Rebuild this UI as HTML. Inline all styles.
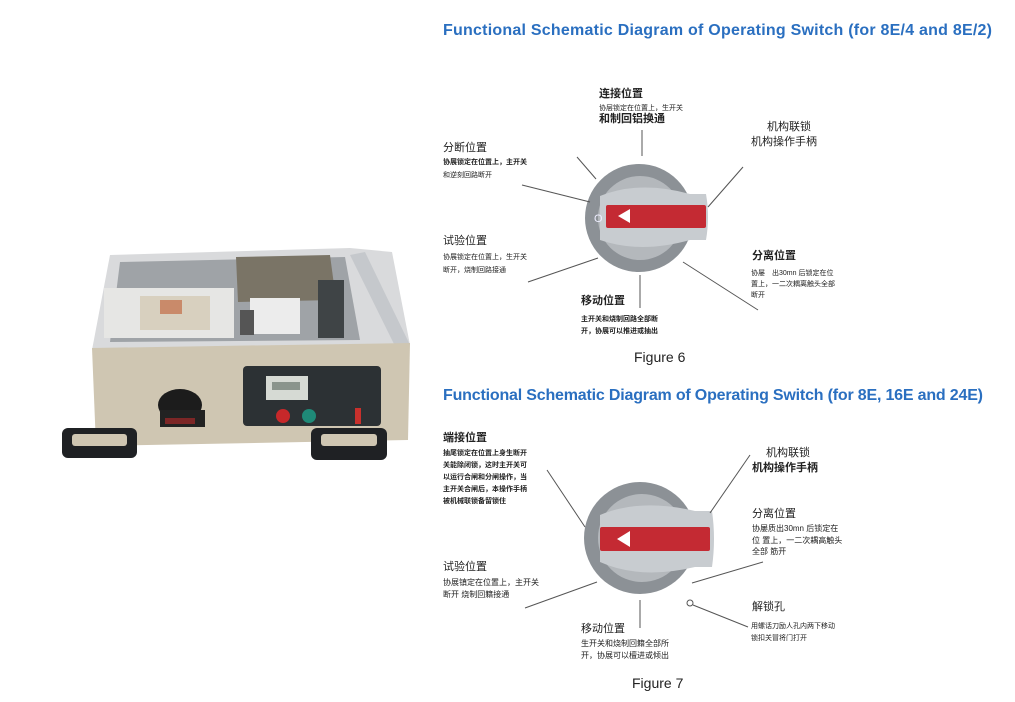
<!DOCTYPE html>
<html><head><meta charset="utf-8"><style>
html,body{margin:0;padding:0;background:#fff;}
svg{display:block}
text{font-family:"Liberation Sans","Noto Sans CJK SC",sans-serif;fill:#222}
.t{fill:#2a6fc0;font-size:16px;font-weight:bold}
.h{font-size:11px;font-weight:bold}
.s{font-size:7px}
.m{font-size:8px}
.ln{stroke:#555;stroke-width:1;fill:none}
</style></head><body>
<svg width="1015" height="702" viewBox="0 0 1015 702" xmlns="http://www.w3.org/2000/svg">
<text class="t" x="443" y="35" textLength="549" lengthAdjust="spacing">Functional Schematic Diagram of Operating Switch (for 8E/4 and 8E/2)</text>
<text class="t" x="443" y="400" textLength="540" lengthAdjust="spacing">Functional Schematic Diagram of Operating Switch (for 8E, 16E and 24E)</text>
<text x="634" y="362" font-size="14">Figure 6</text>
<text x="632" y="688" font-size="14">Figure 7</text>

<g>
<polygon points="110,255 350,248 392,252 410,345 92,350" fill="#d9dadc"/>
<polygon points="120,262 345,257 360,340 110,342" fill="#9fa3a7"/>
<polygon points="236,257 330,255 336,300 238,302" fill="#7a7466"/>
<rect x="104" y="288" width="130" height="50" fill="#e6e6e4"/>
<rect x="140" y="296" width="70" height="34" fill="#d8d0bf"/>
<rect x="160" y="300" width="22" height="14" fill="#c98a6a"/>
<rect x="250" y="298" width="50" height="36" fill="#ececec"/>
<rect x="240" y="310" width="14" height="25" fill="#555"/>
<rect x="318" y="280" width="26" height="58" fill="#3f4446"/>
<polygon points="350,255 365,252 410,345 395,346" fill="#c5c8cc"/>
<polygon points="92,348 410,343 408,440 96,446" fill="#cfc6b2"/>
<rect x="243" y="366" width="138" height="60" rx="4" fill="#2c3134"/>
<rect x="266" y="376" width="42" height="24" fill="#d6dad4"/>
<rect x="272" y="382" width="28" height="8" fill="#8a948c"/>
<circle cx="283" cy="416" r="7" fill="#c7282a"/>
<circle cx="309" cy="416" r="7" fill="#1f8a78"/>
<rect x="355" y="408" width="6" height="16" fill="#c8302c"/>
<ellipse cx="180" cy="405" rx="22" ry="16" fill="#1c1c1c"/>
<rect x="160" y="410" width="45" height="17" fill="#222"/>
<rect x="165" y="418" width="30" height="6" fill="#7c2626"/>
<rect x="62" y="428" width="75" height="30" rx="6" fill="#1f2124"/>
<rect x="72" y="434" width="55" height="12" rx="3" fill="#cfc6b2"/>
<rect x="311" y="428" width="76" height="32" rx="6" fill="#1f2124"/>
<rect x="321" y="434" width="56" height="12" rx="3" fill="#cfc6b2"/>
</g>

<g>
<circle cx="639" cy="218" r="54" fill="#8c9196"/>
<circle cx="640" cy="218" r="42" fill="#b4b8bc"/>
<path d="M600,196 Q640,180 690,194 L706,194 Q710,217 706,240 L690,240 Q640,254 600,240 Z" fill="#c8ccd0"/>
<rect x="606" y="205" width="100" height="23" rx="2" fill="#c42a33"/>
<polygon points="618,216 630,209 630,223" fill="#fff"/>
<text x="594" y="222" font-size="11" style="fill:#eef">O</text>
</g>
<line class="ln" x1="642" y1="130" x2="642" y2="156"/>
<line class="ln" x1="577" y1="157" x2="596" y2="179"/>
<line class="ln" x1="522" y1="185" x2="590" y2="202"/>
<line class="ln" x1="708" y1="207" x2="743" y2="167"/>
<line class="ln" x1="528" y1="282" x2="598" y2="258"/>
<line class="ln" x1="640" y1="275" x2="640" y2="308"/>
<line class="ln" x1="683" y1="262" x2="758" y2="310"/>

<text class="h" x="599" y="97">连接位置</text>
<text class="s" x="599" y="110">协层锁定在位置上，生开关</text>
<text class="h" x="599" y="122" font-size="10">和制回铝换通</text>
<text class="h" x="443" y="151" style="font-weight:normal">分断位置</text>
<text class="s" x="443" y="164" font-weight="bold">协展锁定在位置上，主开关</text>
<text class="s" x="443" y="177">和逆刻回路断开</text>
<text class="h" x="767" y="130" style="font-weight:normal">机构联锁</text>
<text class="h" x="751" y="145" style="font-weight:normal">机构操作手柄</text>
<text class="h" x="443" y="244" style="font-weight:normal">试验位置</text>
<text class="s" x="443" y="259">协展锁定在位置上，生开关</text>
<text class="s" x="443" y="272">断开，烧制回路接通</text>
<text class="h" x="752" y="259">分离位置</text>
<text class="s" x="751" y="275">协屡　出30mn 后锁定在位</text>
<text class="s" x="751" y="286">置上，一二次耦离触头全部</text>
<text class="s" x="751" y="297">断开</text>
<text class="h" x="581" y="304">移动位置</text>
<text class="s" x="581" y="321" font-weight="bold">主开关和烧制回路全部断</text>
<text class="s" x="581" y="333" font-weight="bold">开，协展可以推进或抽出</text>

<g>
<circle cx="640" cy="538" r="56" fill="#8c9196"/>
<circle cx="642" cy="538" r="44" fill="#b4b8bc"/>
<path d="M600,515 Q640,498 695,511 L712,511 Q716,539 712,567 L695,567 Q640,580 600,562 Z" fill="#c8ccd0"/>
<rect x="600" y="527" width="110" height="24" rx="2" fill="#c42a33"/>
<polygon points="617,539 630,531 630,547" fill="#fff"/>
</g>
<line class="ln" x1="547" y1="470" x2="585" y2="527"/>
<line class="ln" x1="710" y1="513" x2="750" y2="455"/>
<line class="ln" x1="692" y1="583" x2="763" y2="562"/>
<line class="ln" x1="525" y1="608" x2="597" y2="582"/>
<line class="ln" x1="640" y1="600" x2="640" y2="628"/>
<circle cx="690" cy="603" r="3" fill="none" stroke="#555"/>
<line class="ln" x1="693" y1="605" x2="748" y2="627"/>

<text class="h" x="443" y="441" font-size="9">端接位置</text>
<text class="s" x="443" y="455" font-weight="bold">抽尾锁定在位置上身生断开</text>
<text class="s" x="443" y="467" font-weight="bold">关能除闭锁，这时主开关可</text>
<text class="s" x="443" y="479" font-weight="bold">以运行合闸和分闸操作，当</text>
<text class="s" x="443" y="491" font-weight="bold">主开关合闸后，本操作手柄</text>
<text class="s" x="443" y="503" font-weight="bold">被机械联锁备留锁住</text>
<text class="h" x="766" y="456" style="font-weight:normal">机构联锁</text>
<text class="h" x="752" y="471">机构操作手柄</text>
<text class="h" x="752" y="517" style="font-weight:normal">分离位置</text>
<text class="m" x="752" y="531">协屡质出30mn 后锁定在</text>
<text class="m" x="752" y="543">位 置上，一二次耦高触头</text>
<text class="m" x="752" y="554">全部 筋开</text>
<text class="h" x="443" y="570" style="font-weight:normal">试验位置</text>
<text class="m" x="443" y="585">协展镇定在位置上，主开关</text>
<text class="m" x="443" y="597">断开 烧制回籍接通</text>
<text class="h" x="752" y="610" style="font-weight:normal">解锁孔</text>
<text class="s" x="751" y="628">用螺话刀励人孔内两下移动</text>
<text class="s" x="751" y="640">锁扣关冒将门打开</text>
<text class="h" x="581" y="632" style="font-weight:normal">移动位置</text>
<text class="m" x="581" y="646">生开关和烧制回籍全部所</text>
<text class="m" x="581" y="658">开，协展可以檀进或倾出</text>
</svg>
</body></html>
